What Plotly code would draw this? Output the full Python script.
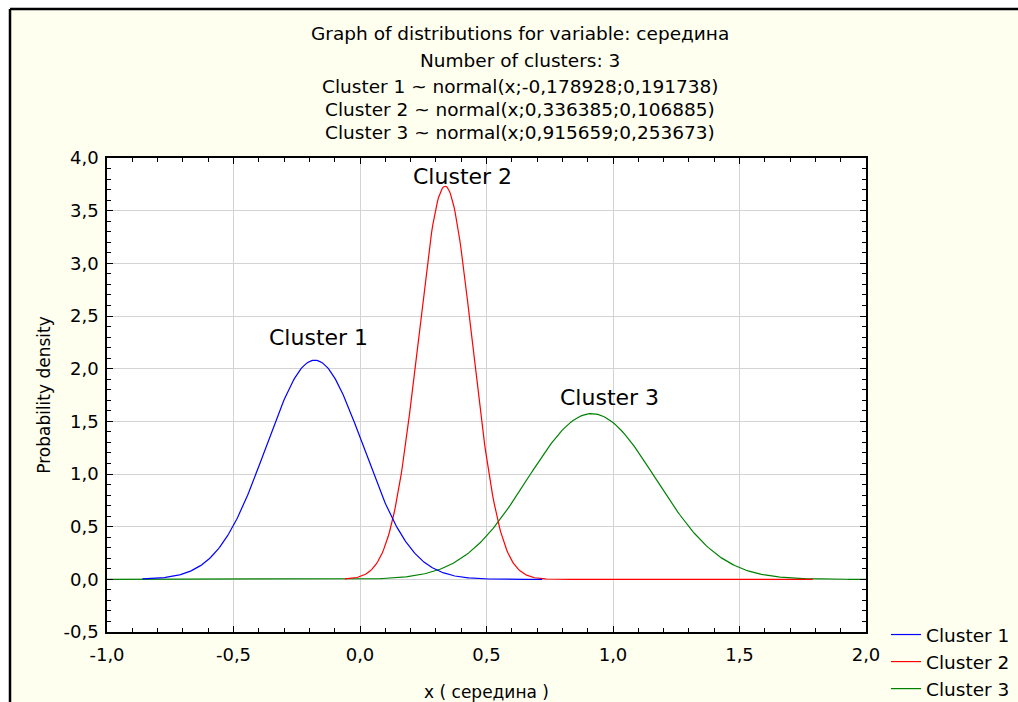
import numpy as np
import plotly.graph_objects as go

# ---- data (parameters printed in the chart header) ----
cluster_names = ["Cluster 1", "Cluster 2", "Cluster 3"]
cluster_means = [-0.178928, 0.336385, 0.915659]
cluster_sigmas = [0.191738, 0.106885, 0.253673]
# x extent over which each curve is drawn
curve_x_start = [-0.86, -0.06, -1.0]
curve_x_end = [0.72, 1.79, 2.0]
curve_colors = ["#0000FF", "#FF0000", "#008000"]
# label positions
label_x = [-0.165, 0.405, 0.985]
label_y = [2.30, 3.82, 1.73]

title_lines = [
    "Graph of distributions for variable: середина",
    "Number of clusters: 3",
    "Cluster 1 ~ normal(x;-0,178928;0,191738)",
    "Cluster 2 ~ normal(x;0,336385;0,106885)",
    "Cluster 3 ~ normal(x;0,915659;0,253673)",
]
title_y_px = [33, 60, 86, 109, 132]

x_ticks = [-1.0, -0.5, 0.0, 0.5, 1.0, 1.5, 2.0]
x_tick_labels = ["-1,0", "-0,5", "0,0", "0,5", "1,0", "1,5", "2,0"]
y_ticks = [-0.5, 0.0, 0.5, 1.0, 1.5, 2.0, 2.5, 3.0, 3.5, 4.0]
y_tick_labels = ["-0,5", "0,0", "0,5", "1,0", "1,5", "2,0", "2,5", "3,0", "3,5", "4,0"]

W, H = 1018, 702
L, R, T, B = 107, 152, 158, 70
PW, PH = W - L - R, H - T - B


def px_to_paper_x(px):
    return (px - L) / PW


def px_to_paper_y(py):
    return (H - B - py) / PH


FONT = "DejaVu Sans"
fig = go.Figure()

# draw Cluster 3 first (bottom), Cluster 1 last (top)
for i in [2, 1, 0]:
    xs = np.linspace(curve_x_start[i], curve_x_end[i], 400)
    mu, sd = cluster_means[i], cluster_sigmas[i]
    ys = np.exp(-0.5 * ((xs - mu) / sd) ** 2) / (sd * np.sqrt(2 * np.pi))
    fig.add_trace(go.Scatter(
        x=xs, y=ys, mode="lines", name=cluster_names[i],
        line=dict(color=curve_colors[i], width=1.2),
    ))

annotations = []
for txt, ypx in zip(title_lines, title_y_px):
    annotations.append(dict(
        text=txt, xref="paper", yref="paper",
        x=px_to_paper_x(520), y=px_to_paper_y(ypx),
        xanchor="center", yanchor="middle", showarrow=False,
        font=dict(family=FONT, size=18.5, color="#000000"),
    ))
for name, lx, ly in zip(cluster_names, label_x, label_y):
    annotations.append(dict(
        text=name, x=lx, y=ly, xref="x", yref="y",
        xanchor="center", yanchor="middle", showarrow=False,
        font=dict(family=FONT, size=22, color="#000000"),
    ))

shapes = [
    # white strips outside the framed panel
    dict(type="rect", xref="paper", yref="paper",
         x0=px_to_paper_x(-20), x1=px_to_paper_x(W + 20),
         y0=px_to_paper_y(9), y1=px_to_paper_y(-20),
         fillcolor="white", line=dict(width=0), layer="below"),
    dict(type="rect", xref="paper", yref="paper",
         x0=px_to_paper_x(-20), x1=px_to_paper_x(10),
         y0=px_to_paper_y(H + 20), y1=px_to_paper_y(-20),
         fillcolor="white", line=dict(width=0), layer="below"),
    # black frame lines
    dict(type="line", xref="paper", yref="paper",
         x0=px_to_paper_x(10), x1=px_to_paper_x(W + 20),
         y0=px_to_paper_y(9), y1=px_to_paper_y(9),
         line=dict(color="#000000", width=2.5)),
    dict(type="line", xref="paper", yref="paper",
         x0=px_to_paper_x(10), x1=px_to_paper_x(10),
         y0=px_to_paper_y(9), y1=px_to_paper_y(H + 20),
         line=dict(color="#000000", width=2.5)),
]

axis_common = dict(
    showline=True, linecolor="#000000", linewidth=1.5, mirror="allticks",
    ticks="inside", ticklen=6, tickcolor="#000000", tickwidth=1,
    showgrid=True, gridcolor="#D3D3D3", gridwidth=1,
    zeroline=False, automargin=False,
    tickfont=dict(family=FONT, size=18, color="#000000"),
    minor=dict(ticks="inside", ticklen=4, tickcolor="#000000", dtick=0.1,
               showgrid=False),
)

fig.update_layout(
    width=W, height=H,
    margin=dict(l=L, r=R, t=T, b=B, autoexpand=False),
    paper_bgcolor="#FFFFF0", plot_bgcolor="#FFFFFF",
    showlegend=True,
    legend=dict(
        x=px_to_paper_x(886), y=px_to_paper_y(662),
        xanchor="left", yanchor="middle",
        traceorder="reversed", bgcolor="rgba(0,0,0,0)",
        font=dict(family=FONT, size=18.5, color="#000000"),
        itemwidth=30, tracegroupgap=0,
    ),
    annotations=annotations,
    shapes=shapes,
    xaxis=dict(range=[-1.0, 2.0], tickvals=x_ticks, ticktext=x_tick_labels,
               ticklabelstandoff=6,
               title=dict(text="x ( середина )", standoff=34,
                          font=dict(family=FONT, size=17, color="#000000")),
               **axis_common),
    yaxis=dict(range=[-0.5, 4.0], tickvals=y_ticks, ticktext=y_tick_labels,
               ticklabelstandoff=3,
               title=dict(text="Probability density", standoff=9,
                          font=dict(family=FONT, size=17, color="#000000")),
               **axis_common),
)

fig.write_html(
    "out.html",
    config={"displayModeBar": False},
    post_script="document.body.style.margin='0';document.body.style.overflow='hidden';",
)
